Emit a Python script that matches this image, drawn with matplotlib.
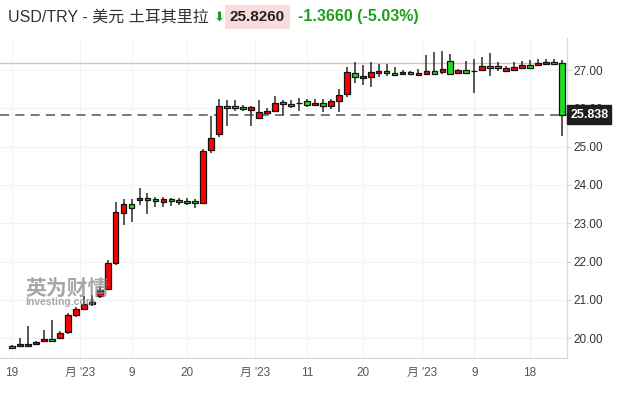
import matplotlib

matplotlib.use("Agg")
import matplotlib.pyplot as plt
import numpy as np

# daily USD/TRY candles (red = up, green = down)
opens = [19.80, 19.80, 19.80, 19.84, 19.92, 19.97, 20.01, 20.16, 20.61, 20.76,
         20.89, 21.10, 21.28, 21.96, 23.28, 23.50, 23.60, 23.65, 23.63, 23.55,
         23.63, 23.61, 23.58, 23.58, 23.53, 24.90, 25.33, 26.05, 26.05, 26.03,
         25.96, 25.74, 25.87, 25.94, 26.16, 26.11, 26.13, 26.18, 26.08, 26.13,
         26.07, 26.20, 26.37, 26.91, 26.78, 26.83, 26.91, 26.97, 26.92, 26.89,
         26.95, 26.86, 26.90, 26.97, 26.95, 27.23, 26.93, 26.99, 26.97, 26.99,
         27.10, 27.10, 26.98, 27.01, 27.06, 27.13, 27.12, 27.15, 27.21, 27.19]
highs = [19.83, 20.00, 20.32, 19.92, 20.21, 20.47, 20.18, 20.67, 20.82, 21.11,
         21.13, 21.36, 22.04, 23.55, 23.63, 23.63, 23.91, 23.78, 23.68, 23.68,
         23.67, 23.67, 23.65, 23.63, 24.94, 25.80, 26.24, 26.22, 26.22, 26.10,
         26.06, 26.21, 26.00, 26.32, 26.22, 26.22, 26.26, 26.25, 26.24, 26.24,
         26.25, 26.50, 27.09, 27.20, 27.13, 27.20, 27.15, 27.15, 27.07, 27.00,
         26.97, 27.02, 27.39, 27.46, 27.50, 27.41, 27.03, 27.23, 27.28, 27.35,
         27.44, 27.20, 27.10, 27.21, 27.23, 27.25, 27.30, 27.29, 27.29, 27.26]
lows = [19.72, 19.78, 19.78, 19.82, 19.90, 19.90, 19.97, 20.10, 20.55, 20.74,
        20.83, 21.04, 21.25, 21.91, 22.95, 23.03, 23.48, 23.24, 23.42, 23.42,
        23.45, 23.47, 23.47, 23.39, 23.50, 24.83, 25.24, 25.54, 25.94, 25.94,
        25.54, 25.72, 25.85, 25.92, 25.83, 26.00, 25.94, 26.04, 26.06, 25.91,
        25.97, 25.91, 26.30, 26.65, 26.61, 26.55, 26.83, 26.85, 26.84, 26.87,
        26.87, 26.84, 26.89, 26.89, 26.90, 26.89, 26.91, 26.91, 26.39, 26.97,
        26.84, 26.98, 26.97, 26.98, 27.05, 27.05, 27.11, 27.14, 27.12, 25.29]
closes = [19.75, 19.85, 19.85, 19.90, 19.97, 19.92, 20.13, 20.60, 20.76, 20.89,
          20.95, 21.27, 21.96, 23.29, 23.50, 23.39, 23.66, 23.60, 23.57, 23.63,
          23.57, 23.55, 23.52, 23.52, 24.89, 25.22, 26.05, 26.00, 26.00, 25.97,
          26.03, 25.90, 25.93, 26.13, 26.11, 26.06, 26.13, 26.10, 26.13, 26.05,
          26.18, 26.34, 26.94, 26.81, 26.84, 26.94, 26.97, 26.91, 26.86, 26.95,
          26.89, 26.92, 26.97, 26.90, 27.03, 26.90, 26.99, 26.93, 26.97, 27.10,
          27.04, 27.04, 27.04, 27.08, 27.13, 27.06, 27.18, 27.21, 27.15, 25.838]

prev_close = 27.192
last_price = 25.838

tick_pos = [0, 8.5, 15, 22, 30.5, 37, 44, 51.5, 58, 65]
tick_labels = ["19", "月 '23", "9", "20", "月 '23", "11", "20", "月 '23", "9", "18"]
y_ticks = [20, 21, 22, 23, 24, 25, 26, 27]

FONT = ["Liberation Sans", "Noto Sans CJK SC", "DejaVu Sans"]
plt.rcParams["font.family"] = FONT

W, H = 628, 395
fig = plt.figure(figsize=(W / 100, H / 100), dpi=100)
ax = fig.add_axes([0, (H - 357.7) / H, 566.7 / W, (357.7 - 38) / H])

x = np.arange(len(opens))
o = np.array(opens)
c = np.array(closes)
up = c >= o
colors = np.where(up, "#ff0000", "#22dd22")

ax.vlines(x, lows, highs, color="#2b2b2b", linewidth=1.1, zorder=2)
ax.bar(x, np.abs(c - o), bottom=np.minimum(o, c), width=0.72,
       color=colors, edgecolor="#111111", linewidth=0.9, zorder=3)

ax.axhline(prev_close, color="#f2b5b5", linewidth=1.0, zorder=1)
ax.axhline(last_price, color="#555555", linewidth=1.1,
           linestyle=(0, (6, 4)), zorder=1)

ax.set_xlim(-1.506, 69.6)
ax.set_ylim(19.494, 27.835)

ax.set_xticks(tick_pos)
ax.set_xticklabels(tick_labels)
ax.set_yticks(y_ticks)
ax.set_yticklabels([f"{v:.2f}" for v in y_ticks])
ax.yaxis.tick_right()
ax.tick_params(axis="x", length=0, pad=7, labelsize=8.5, labelcolor="#555555")
ax.tick_params(axis="y", length=3, width=0.8, color="#d6d8e0", pad=2,
               labelsize=8.5, labelcolor="#333333")
ax.grid(True, color="#f1f2f5", linewidth=0.8, zorder=0)
ax.set_axisbelow(True)
for side in ("top", "left"):
    ax.spines[side].set_visible(False)
for side in ("bottom", "right"):
    ax.spines[side].set_color("#d6d8e0")
    ax.spines[side].set_linewidth(0.9)

# last price tag, drawn over the 26.00 label as in the original
ax.annotate(f"{last_price:.3f}", xy=(1.0, last_price), xycoords=("axes fraction", "data"),
            xytext=(2.5, 0), textcoords="offset points", ha="left", va="center",
            fontsize=9, fontweight="bold", color="white", annotation_clip=False,
            bbox=dict(boxstyle="square,pad=0.25", fc="#1e1e1e", ec="#1e1e1e"), zorder=10)

# watermark
fig.text(25 / W, 1 - 288 / H, "英为财情", fontsize=15, fontweight="bold",
         color="#8a8a8a", alpha=0.75, va="center", family=["Noto Sans CJK SC"])
fig.text(25 / W, 1 - 302 / H, "Investing.com", fontsize=7.5, fontweight="bold",
         color="#8a8a8a", alpha=0.75, va="center")

# header
ty = 1 - 17 / H
fig.text(8 / W, ty, "USD/TRY - 美元 土耳其里拉", fontsize=11.5, color="#333333", va="center")
fig.text(214 / W, ty, "⬇", fontsize=9.5, color="#1e9e1e", va="center", family=["DejaVu Sans"])
fig.text(230 / W, ty, "25.8260", fontsize=11, fontweight="bold", color="#222222", va="center",
         bbox=dict(boxstyle="square,pad=0.3", fc="#fbdcdc", ec="none"))
fig.text(298 / W, ty, "-1.3660 (-5.03%)", fontsize=11.5, fontweight="bold",
         color="#1e9e1e", va="center")

fig.savefig("out.png", dpi=100)
